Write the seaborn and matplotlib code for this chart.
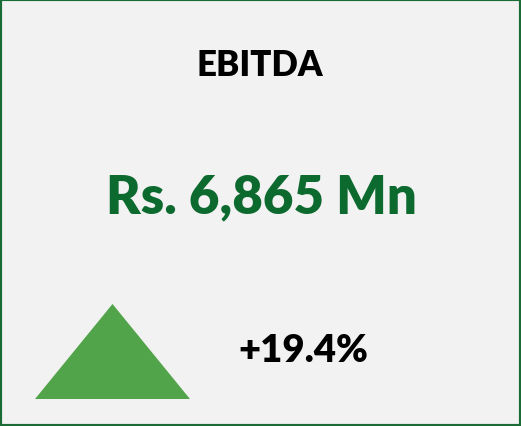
import numpy as np
import pandas as pd
import seaborn as sns
import matplotlib.pyplot as plt
from matplotlib.path import Path

# datos del indicador
titulo = "EBITDA"
valor = "Rs. 6,865 Mn"
cambio = [19.4]

sns.set_theme(style="white")
plt.rcParams['font.family'] = ['Lato', 'DejaVu Sans']

verde_oscuro = "#0d6a2f"
verde_claro = "#52a44a"
fondo = "#f2f2f2"

fig = plt.figure(figsize=(5.21, 4.27), dpi=100)
fig.patch.set_facecolor(fondo)
ax = fig.add_axes([0, 0, 1, 1])
ax.set_facecolor(fondo)
ax.set_xlim(0, 521)
ax.set_ylim(427, 0)
ax.set_xticks([])
ax.set_yticks([])
for s in ax.spines.values():
    s.set_color("#1a6b35")
    s.set_linewidth(3)

# texto
ax.text(259.5, 76, titulo, ha="center", va="baseline", fontsize=25,
        fontweight="heavy", color="black")
ax.text(261, 213, valor, ha="center", va="baseline", fontsize=38,
        fontweight="heavy", color=verde_oscuro)
ax.text(303, 362, f"{cambio[0]:+.1f}%", ha="center", va="baseline",
        fontsize=27.5, fontweight="heavy", color="black")

# triangulo indicador (sube si el cambio es positivo)
df = pd.DataFrame({"x": [111.5], "y": [351.5], "cambio": cambio})
h = 0.613 if cambio[0] > 0 else -0.613
tri = Path([(-1, -h), (1, -h), (0, h), (-1, -h)],
           [Path.MOVETO, Path.LINETO, Path.LINETO, Path.CLOSEPOLY])
sns.scatterplot(data=df, x="x", y="y", marker=tri, s=111.6 ** 2,
                color=verde_claro, linewidth=0, ax=ax, legend=False)
ax.set_xlabel("")
ax.set_ylabel("")

fig.savefig("out.png", dpi=100, facecolor=fondo)
